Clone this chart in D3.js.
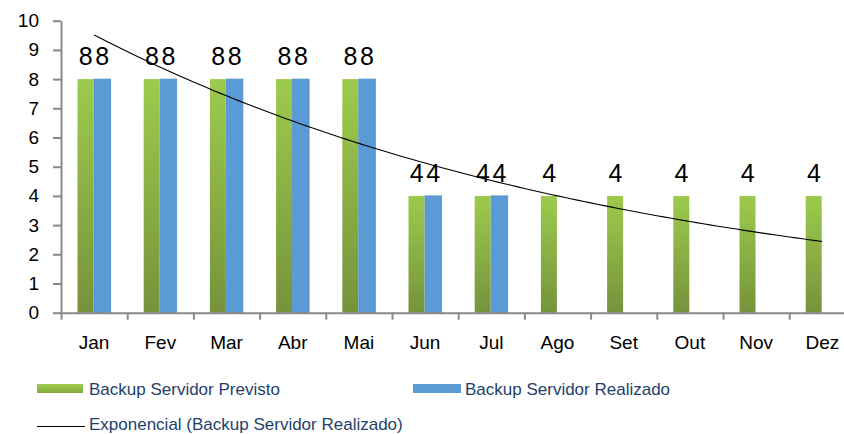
<!DOCTYPE html>
<html>
<head>
<meta charset="utf-8">
<script src="https://cdn.jsdelivr.net/npm/d3@7"></script>
<style>
  body { margin: 0; background: #fff; }
  text { font-family: "Liberation Sans", Arial, sans-serif; }
</style>
</head>
<body>
<div id="viz"></div>
<script>
var width = 844;
var height = 434;

// data
var meses = ["Jan", "Fev", "Mar", "Abr", "Mai", "Jun", "Jul", "Ago", "Set", "Out", "Nov", "Dez"];
var previsto = [8, 8, 8, 8, 8, 4, 4, 4, 4, 4, 4, 4];
var realizado = [8, 8, 8, 8, 8, 4, 4, null, null, null, null, null];
var yTicks = [0, 1, 2, 3, 4, 5, 6, 7, 8, 9, 10];
var series = ["Backup Servidor Previsto", "Backup Servidor Realizado"];
var trendName = "Exponencial (Backup Servidor Realizado)";

var svg = d3.select("#viz")
  .append("svg")
  .attr("width", width)
  .attr("height", height);

var defs = svg.append("defs");
var grad = defs.append("linearGradient")
  .attr("id", "gradGreen")
  .attr("x1", 0).attr("y1", 0).attr("x2", 0).attr("y2", 1);
grad.append("stop").attr("offset", "0%").attr("stop-color", "#9dcb4c");
grad.append("stop").attr("offset", "100%").attr("stop-color", "#76933c");

var gradLeg = defs.append("linearGradient")
  .attr("id", "gradLeg")
  .attr("x1", 0).attr("y1", 0).attr("x2", 0).attr("y2", 1);
gradLeg.append("stop").attr("offset", "0%").attr("stop-color", "#9dcb4c");
gradLeg.append("stop").attr("offset", "100%").attr("stop-color", "#86a83f");

// scales
var x0 = 61, x1 = 855.4;
var x = d3.scaleBand()
  .domain(meses)
  .range([x0, x1])
  .padding(0);

var xs = d3.scaleBand()
  .domain(series)
  .range([16.5, 49.5]);

var y = d3.scaleLinear()
  .domain([0, 10])
  .range([312.7, 20.7]);

var xEdge = d3.scaleLinear()
  .domain([0, 12])
  .range([x0, x1]);

// bars previsto
svg.append("g").selectAll("rect")
  .data(previsto)
  .enter()
  .append("rect")
  .attr("x", function(d, i) { return x(meses[i]) + xs(series[0]); })
  .attr("y", function(d) { return y(d); })
  .attr("width", xs.bandwidth() - 0.5)
  .attr("height", function(d) { return y(0) - y(d); })
  .style("fill", "url(#gradGreen)");

// bars realizado
var realPts = realizado.map(function(d, i) { return {v: d, m: meses[i]}; })
  .filter(function(d) { return d.v != null; });

svg.append("g").selectAll("rect")
  .data(realPts)
  .enter()
  .append("rect")
  .attr("x", function(d) { return x(d.m) + xs(series[1]); })
  .attr("y", function(d) { return y(d.v); })
  .attr("width", xs.bandwidth())
  .attr("height", function(d) { return y(0) - y(d.v); })
  .style("fill", "#5b9bd5")
  .style("stroke", "#4f8fcc")
  .style("stroke-width", 0.8);

// data labels
svg.append("g").selectAll("text")
  .data(previsto)
  .enter()
  .append("text")
  .attr("x", function(d, i) { return x(meses[i]) + xs(series[0]) + xs.bandwidth() / 2; })
  .attr("y", function(d) { return y(d) - 14; })
  .attr("text-anchor", "middle")
  .style("font-size", "25px")
  .style("fill", "#000")
  .text(function(d) { return d; });

svg.append("g").selectAll("text")
  .data(realPts)
  .enter()
  .append("text")
  .attr("x", function(d) { return x(d.m) + xs(series[1]) + xs.bandwidth() / 2; })
  .attr("y", function(d) { return y(d.v) - 14; })
  .attr("text-anchor", "middle")
  .style("font-size", "25px")
  .style("fill", "#000")
  .text(function(d) { return d.v; });

// exponential trend (least squares on ln y, like Excel)
var pts = [];
realizado.forEach(function(d, i) { if (d != null) pts.push([i + 1, Math.log(d)]); });
var mx = d3.mean(pts, function(p) { return p[0]; });
var my = d3.mean(pts, function(p) { return p[1]; });
var b = d3.sum(pts, function(p) { return (p[0] - mx) * (p[1] - my); }) /
        d3.sum(pts, function(p) { return (p[0] - mx) * (p[0] - mx); });
var a = my - b * mx;
var trendX = d3.range(1, 12.01, 0.1);

var line = d3.line()
  .x(function(t) { return x(meses[0]) + x.bandwidth() / 2 + (t - 1) * x.bandwidth(); })
  .y(function(t) { return y(Math.exp(a + b * t)); });

svg.append("path")
  .datum(trendX)
  .attr("d", line)
  .attr("fill", "none")
  .attr("stroke", "#000")
  .attr("stroke-width", 1.1);

// axes
var yAxis = svg.append("g")
  .attr("transform", "translate(" + x0 + ",0)")
  .call(d3.axisLeft(y).tickValues(yTicks).tickSize(8).tickPadding(14).tickSizeOuter(0));
yAxis.selectAll("text")
  .style("font-size", "19px")
  .style("font-family", "Liberation Sans, Arial, sans-serif")
  .style("fill", "#000");

var xTicks = svg.append("g")
  .attr("transform", "translate(0," + y(0) + ")")
  .call(d3.axisBottom(xEdge).tickValues(d3.range(0, 13)).tickFormat("").tickSize(7).tickSizeOuter(0));

var xAxis = svg.append("g")
  .attr("transform", "translate(0," + y(0) + ")")
  .call(d3.axisBottom(x).tickSize(0).tickPadding(23));
xAxis.select(".domain").remove();
xAxis.selectAll("text")
  .style("font-size", "19px")
  .style("font-family", "Liberation Sans, Arial, sans-serif")
  .style("fill", "#000");

svg.selectAll(".domain, .tick line")
  .attr("stroke", "#898989")
  .attr("stroke-width", 2);

// legend
var legend = svg.append("g");
legend.append("rect")
  .attr("x", 37).attr("y", 384).attr("width", 46).attr("height", 9)
  .style("fill", "url(#gradLeg)");
legend.append("text")
  .attr("x", 89).attr("y", 395)
  .style("font-size", "17px")
  .style("fill", "#243f6b")
  .text(series[0]);

legend.append("rect")
  .attr("x", 413).attr("y", 384).attr("width", 48).attr("height", 9)
  .style("fill", "#5b9bd5");
legend.append("text")
  .attr("x", 465).attr("y", 395)
  .style("font-size", "17px")
  .style("fill", "#243f6b")
  .text(series[1]);

legend.append("line")
  .attr("x1", 37).attr("x2", 85).attr("y1", 426.5).attr("y2", 426.5)
  .attr("stroke", "#000").attr("stroke-width", 1);
legend.append("text")
  .attr("x", 89).attr("y", 430)
  .style("font-size", "17px")
  .style("fill", "#243f6b")
  .text(trendName);
</script>
</body>
</html>
